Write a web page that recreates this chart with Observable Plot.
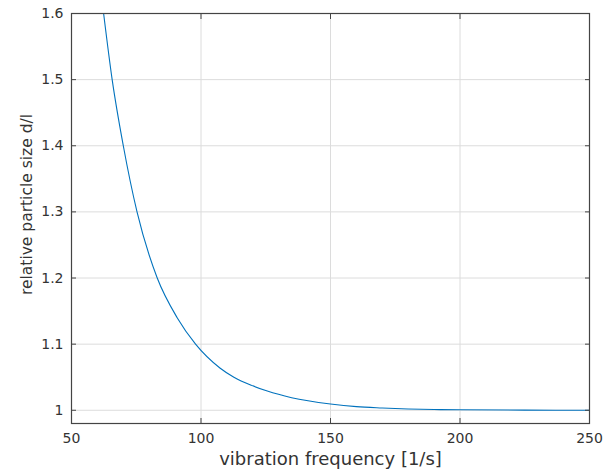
<!DOCTYPE html>
<html>
<head>
<meta charset="utf-8">
<script src="https://cdn.jsdelivr.net/npm/d3@7"></script>
<script src="https://cdn.jsdelivr.net/npm/@observablehq/plot@0.6"></script>
<style>
  html, body { margin: 0; padding: 0; background: #fff; }
  svg { display: block; }
</style>
</head>
<body>
<div id="chart"></div>
<script>
const freq = [62.4, 65.7, 70, 75.3, 83.1, 90.8, 97.9, 107.3, 112.7, 120, 125.6, 135, 150, 160, 170, 180, 190, 200, 225, 250];
const size = [1.6, 1.5, 1.4, 1.3, 1.2, 1.14, 1.1, 1.064, 1.05, 1.037, 1.029, 1.019, 1.0095, 1.0055, 1.0035, 1.002, 1.0012, 1.0007, 1.0002, 1.0];
const xTicks = [50, 100, 150, 200, 250];
const yTicks = [1, 1.1, 1.2, 1.3, 1.4, 1.5, 1.6];
const xLabel = "vibration frequency [1/s]";
const yLabel = "relative particle size d/l";

const data = freq.map((f, i) => ({f, s: size[i]}));
const font = "DejaVu Sans, sans-serif";
const axisColor = "#444";

const chart = Plot.plot({
  width: 616,
  height: 475,
  marginLeft: 71,
  marginRight: 27,
  marginTop: 13,
  marginBottom: 52,
  style: {fontFamily: font, fontSize: "14px", color: "#333", background: "#fff"},
  x: {domain: [50, 250]},
  y: {domain: [0.98, 1.6]},
  marks: [
    Plot.gridX(xTicks, {stroke: "#dcdcdc", strokeOpacity: 1}),
    Plot.gridY(yTicks, {stroke: "#dcdcdc", strokeOpacity: 1}),
    Plot.line(data, {x: "f", y: "s", stroke: "#0072BD", strokeWidth: 1.1, curve: "monotone-x", clip: true}),
    Plot.frame({stroke: axisColor, strokeWidth: 1.2}),
    Plot.axisX(xTicks, {anchor: "bottom", tickSize: 0, tickPadding: 10, fontSize: 14, fill: "#333", label: null, tickFormat: d => String(d)}),
    Plot.axisX(xTicks, {anchor: "bottom", tickSize: -5, text: null, label: null, stroke: axisColor}),
    Plot.axisX(xTicks, {anchor: "top", tickSize: -5, text: null, label: null, stroke: axisColor}),
    Plot.axisY(yTicks, {anchor: "left", tickSize: 0, tickPadding: 8, fontSize: 14, fill: "#333", label: null, tickFormat: d => d === 1 ? "1" : d.toFixed(1)}),
    Plot.axisY(yTicks, {anchor: "left", tickSize: -5, text: null, label: null, stroke: axisColor}),
    Plot.axisY(yTicks, {anchor: "right", tickSize: -5, text: null, label: null, stroke: axisColor}),
    Plot.text([xLabel], {frameAnchor: "bottom", dy: 41, fontSize: 18, fill: "#333", text: d => d}),
    Plot.text([yLabel], {frameAnchor: "left", textAnchor: "middle", lineAnchor: "middle", dx: -44, dy: -14, rotate: -90, fontSize: 15.5, fill: "#333", text: d => d})
  ]
});
document.getElementById("chart").appendChild(chart);
</script>
</body>
</html>
